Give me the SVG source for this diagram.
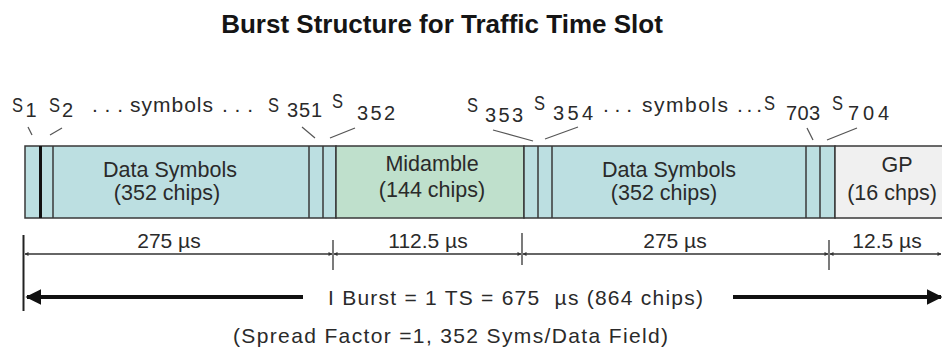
<svg xmlns="http://www.w3.org/2000/svg" width="942" height="362" viewBox="0 0 942 362">
<style>
text{font-family:"Liberation Sans",Arial,sans-serif;fill:#2a2a2a}
.t{font-size:26px;font-weight:bold;fill:#151515}
.lb{font-size:21px}
.s{font-size:21px}
.sub{font-size:20px}
.bx{font-size:21.5px;text-anchor:middle}
.dm{font-size:21px;text-anchor:middle}
.data{fill:#bcdfe1;stroke:#383838;stroke-width:1.5}
.mid{fill:#bfe0cc;stroke:#383838;stroke-width:1.5}
.gp{fill:#f0f0f0;stroke:#383838;stroke-width:1.5}
.sep{stroke:#383838;stroke-width:1.5}
.tick{stroke:#555;stroke-width:1.2;fill:none}
.dim{stroke:#333;stroke-width:1.3;fill:none}
.thick{stroke:#111;stroke-width:4;fill:none}
</style>
<defs>
<marker id="ah" viewBox="0 0 10 10" refX="9" refY="5" markerWidth="4" markerHeight="4" orient="auto-start-reverse" markerUnits="strokeWidth">
<path d="M0,0L10,5L0,10z" fill="#111"/>
</marker>
<marker id="sm" viewBox="0 0 10 10" refX="9" refY="5" markerWidth="3" markerHeight="3" orient="auto-start-reverse" markerUnits="strokeWidth">
<path d="M0,0L10,5L0,10z" fill="#333"/>
</marker>
</defs>
<rect width="942" height="362" fill="#fff"/>

<g id="title"><text class="t" x="442" y="33" text-anchor="middle">Burst Structure for Traffic Time Slot</text></g>

<g id="data1">
<rect class="data" x="25" y="146" width="311" height="72"/>
<line class="sep" x1="53" y1="146" x2="53" y2="218"/>
<line x1="40.5" y1="146" x2="40.5" y2="218" stroke="#111" stroke-width="3"/>
<line class="sep" x1="309" y1="146" x2="309" y2="218"/>
<line class="sep" x1="323" y1="146" x2="323" y2="218"/>
<text class="bx" x="170" y="177">Data Symbols</text>
<text class="bx" x="167" y="200">(352 chips)</text>
</g>
<g id="midamble">
<rect class="mid" x="336" y="146" width="188" height="72"/>
<text class="bx" x="432" y="171">Midamble</text>
<text class="bx" x="432" y="197">(144 chips)</text>
</g>
<g id="data2">
<rect class="data" x="524" y="146" width="311" height="72"/>
<line class="sep" x1="538" y1="146" x2="538" y2="218"/>
<line class="sep" x1="552" y1="146" x2="552" y2="218"/>
<line class="sep" x1="806" y1="146" x2="806" y2="218"/>
<line class="sep" x1="820" y1="146" x2="820" y2="218"/>
<text class="bx" x="669" y="177">Data Symbols</text>
<text class="bx" x="664" y="200">(352 chips)</text>
</g>
<g id="gp">
<rect class="gp" x="835" y="146" width="120" height="72"/>
<text class="bx" x="897" y="172">GP</text>
<text class="bx" x="892" y="200">(16 chps)</text>
</g>

<g id="symbol-labels">
<text class="s" x="12" y="112" textLength="11" lengthAdjust="spacingAndGlyphs">S</text><text class="sub" x="25.5" y="117">1</text>
<text class="s" x="49" y="112" textLength="11" lengthAdjust="spacingAndGlyphs">S</text><text class="sub" x="62" y="117">2</text>
<text class="lb" x="92" y="112" textLength="31">...</text>
<text class="lb" x="130" y="112" textLength="83">symbols</text>
<text class="lb" x="222" y="112" textLength="31">...</text>
<text class="s" x="268" y="112" textLength="11" lengthAdjust="spacingAndGlyphs">S</text><text class="sub" x="287" y="117" textLength="35">351</text>
<text class="s" x="332" y="108" textLength="11" lengthAdjust="spacingAndGlyphs">S</text><text class="sub" x="357" y="120" textLength="38">352</text>
<text class="s" x="467" y="112" textLength="11" lengthAdjust="spacingAndGlyphs">S</text><text class="sub" x="485" y="122" textLength="38">353</text>
<text class="s" x="534" y="110" textLength="11" lengthAdjust="spacingAndGlyphs">S</text><text class="sub" x="553" y="120" textLength="40">354</text>
<text class="lb" x="603" y="112" textLength="29">...</text>
<text class="lb" x="642" y="112" textLength="86">symbols</text>
<text class="lb" x="737" y="112" textLength="25">...</text>
<text class="s" x="764" y="110" textLength="11" lengthAdjust="spacingAndGlyphs">S</text><text class="sub" x="786" y="120" textLength="34">703</text>
<text class="s" x="832" y="110" textLength="11" lengthAdjust="spacingAndGlyphs">S</text><text class="sub" x="848" y="120" textLength="41">704</text>
</g>

<g id="durations">
<text class="dm" x="169" y="248">275 µs</text>
<text class="dm" x="428" y="248">112.5 µs</text>
<text class="dm" x="675" y="248">275 µs</text>
<text class="dm" x="887" y="248">12.5 µs</text>
<text class="lb" x="328" y="305" textLength="375" xml:space="preserve">I Burst = 1 TS = 675  µs (864 chips)</text>
<text class="lb" x="233" y="343" textLength="435">(Spread Factor =1, 352 Syms/Data Field)</text>
</g>

<g id="connectors">
<line class="tick" x1="28" y1="127" x2="32" y2="135"/>
<line class="tick" x1="50" y1="135" x2="62" y2="128"/>
<line class="tick" x1="302" y1="127" x2="315" y2="138"/>
<line class="tick" x1="330" y1="138" x2="355" y2="128"/>
<line class="tick" x1="493" y1="130" x2="533" y2="141"/>
<line class="tick" x1="545" y1="139" x2="578" y2="127"/>
<line class="tick" x1="807" y1="128" x2="813" y2="140"/>
<line class="tick" x1="827" y1="140" x2="857" y2="128"/>

<line x1="23.5" y1="235" x2="23.5" y2="311" stroke="#222" stroke-width="2"/>
<line class="dim" x1="333" y1="240" x2="333" y2="270"/>
<line class="dim" x1="522" y1="233" x2="522" y2="265"/>
<line class="dim" x1="829" y1="240" x2="829" y2="270"/>
<line class="dim" x1="25" y1="254" x2="332" y2="254" marker-start="url(#sm)" marker-end="url(#sm)"/>
<line class="dim" x1="334" y1="254" x2="521" y2="254" marker-start="url(#sm)" marker-end="url(#sm)"/>
<line class="dim" x1="523" y1="254" x2="828" y2="254" marker-start="url(#sm)" marker-end="url(#sm)"/>
<line class="dim" x1="830" y1="254" x2="941" y2="254" marker-start="url(#sm)" marker-end="url(#sm)"/>

<line class="thick" x1="303" y1="297" x2="27" y2="297" marker-end="url(#ah)"/>
<line class="thick" x1="733" y1="297" x2="941" y2="297" marker-end="url(#ah)"/>
</g>
</svg>
